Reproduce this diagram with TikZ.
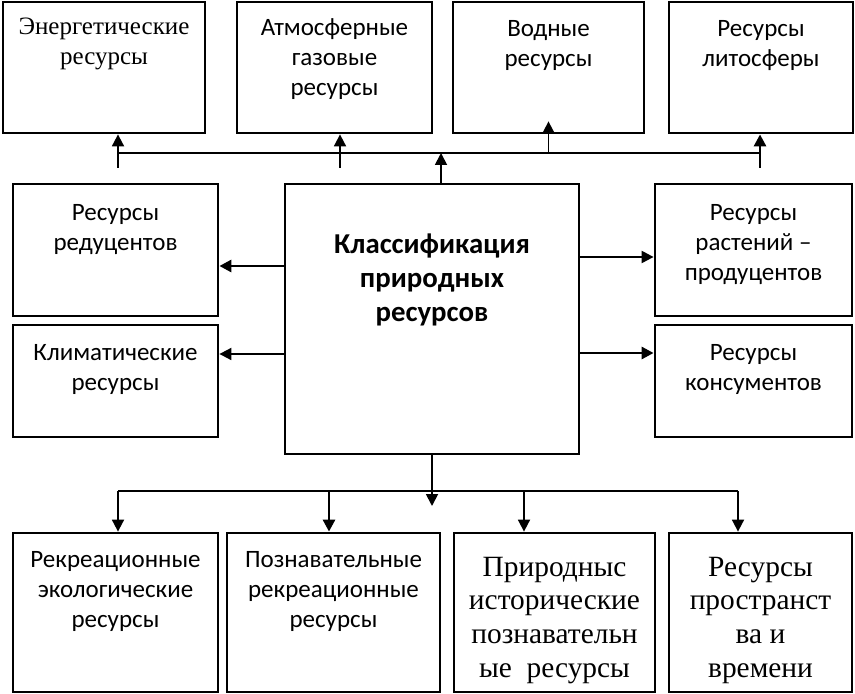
\documentclass[tikz,border=0pt]{standalone}
\usepackage{fontspec}
\setmainfont{Liberation Serif}
\newfontfamily\calfont{Carlito}
\usetikzlibrary{arrows.meta,positioning}
\tikzset{
  box/.style={draw,line width=1.4pt,inner sep=0pt},
  txt/.style={align=center,inner sep=0pt,font=\calfont\fontsize{12.5}{15}\selectfont},
  ser/.style={align=center,inner sep=0pt,font=\fontsize{12.5}{15}\selectfont},
  serbig/.style={align=center,inner sep=0pt,font=\fontsize{14.7}{16.8}\selectfont},
  arr/.style={line width=0.9pt,-{Triangle[length=6pt,width=6pt]}},
  arrb/.style={line width=1.4pt,-{Triangle[length=6pt,width=6pt]}},
  bus/.style={line width=0.9pt}
}
\begin{document}
\begin{tikzpicture}[x=0.5pt,y=-0.5pt]
  \useasboundingbox (0,0) rectangle (855,694);
  % top row
  \node[box,minimum width=101pt,minimum height=65.5pt] (en) at (104,67.5) {};
  \node[box,minimum width=97.5pt,minimum height=65.5pt] (atm) at (334.5,67.5) {};
  \node[box,minimum width=95.5pt,minimum height=65.5pt] (vod) at (548.5,67.5) {};
  \node[box,minimum width=92pt,minimum height=65.5pt] (lit) at (761,67.5) {};
  \node[ser,below=8.5pt of en.north] (ent) {Энергетические\\ресурсы};
  \node[txt,below=9pt of atm.north] (atmt) {Атмосферные\\газовые\\ресурсы};
  \node[txt,below=9.5pt of vod.north] (vodt) {Водные\\ресурсы};
  \node[txt,below=9.5pt of lit.north] (litt) {Ресурсы\\литосферы};
  % middle row
  \node[box,minimum width=102.5pt,minimum height=66pt] (red) at (115.5,250) {};
  \node[box,minimum width=102.5pt,minimum height=56pt] (klim) at (115.5,381) {};
  \node[box,minimum width=147pt,minimum height=135pt] (main) at (432,319) {};
  \node[box,minimum width=98.5pt,minimum height=66pt] (rast) at (753.5,250) {};
  \node[box,minimum width=98.5pt,minimum height=56pt] (kons) at (753.5,381) {};
  \node[txt,below=10.5pt of red.north] (redt) {Ресурсы\\редуцентов};
  \node[txt,below=10pt of klim.north] (klimt) {Климатические\\ресурсы};
  \node[txt,below=25.5pt of main.north,font=\calfont\bfseries\fontsize{14.4}{17}\selectfont] (maint) {Классификация\\природных\\ресурсов};
  \node[txt,below=10.5pt of rast.north] (rastt) {Ресурсы\\растений –\\продуцентов};
  \node[txt,below=10pt of kons.north] (konst) {Ресурсы\\консументов};
  % bottom row
  \node[box,minimum width=102.5pt,minimum height=79.5pt] (rekr) at (115.5,612.5) {};
  \node[box,minimum width=106.5pt,minimum height=79.5pt] (pozn) at (333.5,612.5) {};
  \node[box,minimum width=100.5pt,minimum height=79.5pt] (prir) at (554.5,612.5) {};
  \node[box,minimum width=91.5pt,minimum height=79.5pt] (prost) at (760.5,612.5) {};
  \node[txt,below=9.5pt of rekr.north] (rekrt) {Рекреационные\\экологические\\ресурсы};
  \node[txt,below=9.5pt of pozn.north] (poznt) {Познавательные\\рекреационные\\ресурсы};
  \node[serbig,below=12.5pt of prir.north] (prirt) {Природныс\\исторические\\познавательн\\ые\ \ ресурсы};
  \node[serbig,below=12.5pt of prost.north] (prostt) {Ресурсы\\пространст\\ва и\\времени};
  % upper bus
  \coordinate (tb) at (441,153);
  \coordinate (b1) at (118,168);
  \coordinate (b2) at (340,168);
  \coordinate (b4) at (760,168);
  \draw[bus] (b1 |- tb) -- (b4 |- tb);
  \draw[arr] (b1) -- (b1 |- en.south);
  \draw[arr] (b2) -- (b2 |- atm.south);
  \draw[arrb] (b4) -- (b4 |- lit.south);
  \draw[arr] (vod.south |- tb) -- ([yshift=6.5pt]vod.south);
  \draw[arr] (main.north -| tb) -- (tb);
  % side arrows
  \coordinate (l1) at (0,266);
  \coordinate (l2) at (0,354);
  \coordinate (r1) at (0,257);
  \coordinate (r2) at (0,353);
  \draw[arrb] (main.west |- l1) -- (red.east |- l1);
  \draw[arr] (main.west |- l2) -- (klim.east |- l2);
  \draw[arr,line width=1.1pt] (main.east |- r1) -- (rast.west |- r1);
  \draw[arrb] (main.east |- r2) -- (kons.west |- r2);
  % lower bus
  \coordinate (bb) at (432,491);
  \coordinate (d1) at (118,491);
  \coordinate (d2) at (329,491);
  \coordinate (d3) at (524,491);
  \coordinate (d4) at (738,491);
  \draw[bus] (d1) -- (d4);
  \draw[arr] (main.south) -- ([yshift=-7.5pt]bb);
  \foreach \p/\b in {d1/rekr,d3/prir,d4/prost}
    \draw[arr] (\p) -- (\p |- \b.north);
  \draw[arrb] (d2) -- (d2 |- pozn.north);
\end{tikzpicture}
\end{document}
